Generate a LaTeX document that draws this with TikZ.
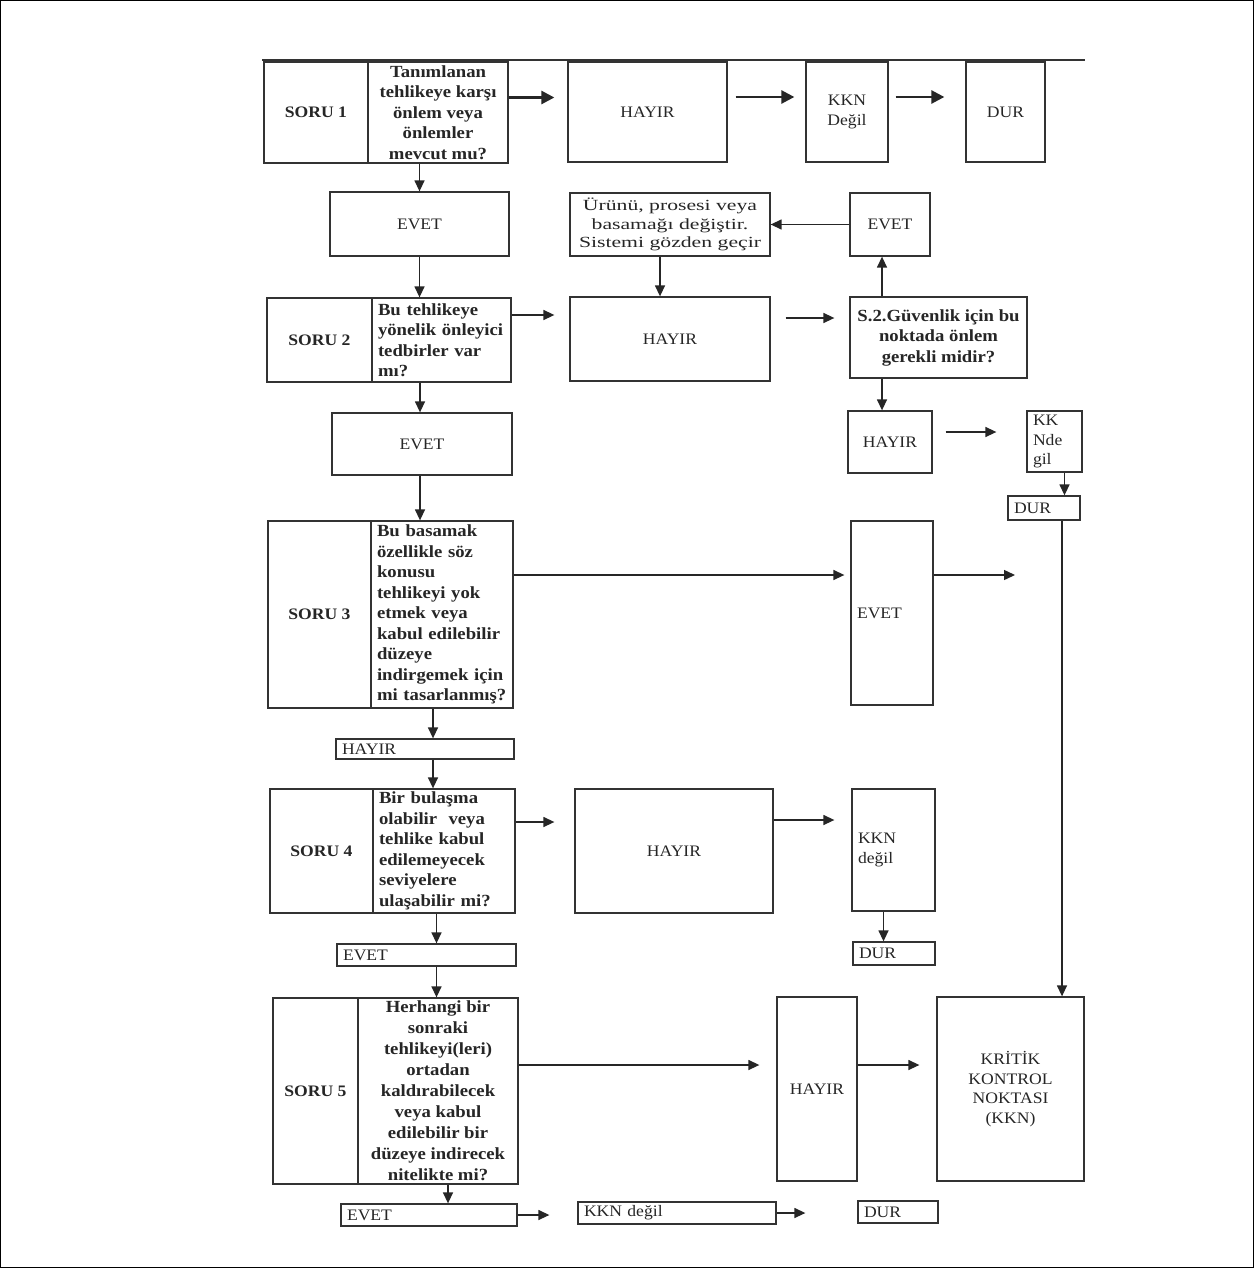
\documentclass[tikz,border=0pt]{standalone}
\usepackage{fontspec}
\setmainfont[FakeStretch=1.1]{Liberation Serif}
\newfontfamily\widefont[FakeStretch=1.4]{Liberation Serif}
\usetikzlibrary{arrows.meta}
\begin{document}
\begin{tikzpicture}[x=1pt,y=-1pt,
  bx/.style={draw=black!80, line width=1.3pt, text=black!85, inner sep=0pt, inner xsep=6pt,
    font=\fontsize{16}{19.5}\selectfont, align=center},
  qbx/.style={bx, font=\bfseries\fontsize{17}{20.5}\selectfont},
  lbl/.style={bx, font=\bfseries\fontsize{16}{19.5}\selectfont},
  arr/.style={draw=black!85, line width=1.4pt, -{Triangle[length=11pt,width=10pt]}},
  tarr/.style={draw=black!85, line width=2.6pt, -{Triangle[length=13pt,width=13pt]}},
]
\useasboundingbox (0,0) rectangle (1254,1268);
\fill[white] (0,0) rectangle (1254,1268);
\draw[line width=1.2pt] (0.6,0.6) rectangle (1253.4,1267.4);

% top line
\coordinate (tl) at (262,60);
\coordinate (tr) at (1085,60);
\draw[line width=1.6pt, black!80] (tl) -- (tr);

% ---- row 1
\node[lbl, minimum width=104pt, minimum height=101pt] (s1a) at (316,112.5) {SORU 1};
\node[qbx, minimum width=140pt, minimum height=101pt] (s1q) at (438,112.5) {Tanımlanan\\tehlikeye karşı\\önlem veya\\önlemler\\mevcut mu?};
\node[bx, minimum width=159pt, minimum height=100pt] (h1) at (647.5,112) {HAYIR};
\node[bx, minimum width=82pt, minimum height=100pt] (k1) at (847,112) {KKN\\Değil};
\node[bx, minimum width=79pt, minimum height=100pt] (d1) at (1005.5,112) {DUR};
\draw[tarr, shorten >=13pt] ([yshift=15pt]s1q.east) -- ([yshift=15pt]s1q.east -| h1.west);
\draw[tarr, shorten <=8pt, shorten >=11pt] ([yshift=15pt]h1.east) -- ([yshift=15pt]h1.east -| k1.west);
\draw[tarr, shorten <=7pt, shorten >=21pt] ([yshift=15pt]k1.east) -- ([yshift=15pt]k1.east -| d1.west);

% ---- row 2
\node[bx, minimum width=179pt, minimum height=64pt] (e1) at (419.5,224) {EVET};
\node[bx, minimum width=200pt, minimum height=63pt, font=\widefont\fontsize{15.5}{18.5}\selectfont] (u) at (670,224.5) {Ürünü, prosesi veya\\basamağı değiştir.\\Sistemi gözden geçir};
\node[bx, minimum width=80pt, minimum height=63pt] (e2r) at (890,224.5) {EVET};
\draw[arr] (s1q.south -| e1.north) -- (e1.north);
\draw[arr] (e2r.west) -- (u.east);

% ---- row 3
\node[lbl, minimum width=105pt, minimum height=84pt] (s2a) at (319.5,340) {SORU 2};
\node[qbx, minimum width=139pt, minimum height=84pt, text width=127pt, align=left] (s2q) at (441.5,340) {Bu tehlikeye\\yönelik önleyici\\tedbirler var\\mı?};
\node[bx, minimum width=200pt, minimum height=84pt] (h2) at (670,339) {HAYIR};
\node[qbx, minimum width=177pt, minimum height=81pt] (sg) at (938.5,337.5) {S.2.Güvenlik için bu\\noktada önlem\\gerekli midir?};
\draw[arr] (e1.south) -- (e1.south |- s2q.north);
\draw[arr, shorten >=15pt] ([yshift=25pt]s2q.east) -- ([yshift=25pt]s2q.east -| h2.west);
\draw[arr, shorten <=15pt, shorten >=15pt] ([yshift=21pt]h2.east) -- ([yshift=21pt]h2.east -| sg.west);
\draw[arr] ([xshift=-10pt]u.south) -- ([xshift=-10pt]h2.north);
\draw[arr] ([xshift=-8pt]e2r.south |- sg.north) -- ([xshift=-8pt]e2r.south);

% ---- row 4
\node[bx, minimum width=180pt, minimum height=62pt] (e3) at (422,444) {EVET};
\node[bx, minimum width=84pt, minimum height=62pt] (h3) at (890,442) {HAYIR};
\node[bx, minimum width=55pt, minimum height=61pt, text width=43pt, align=left] (k3) at (1054.5,441.5) {KK\\Nde\\gil};
\node[bx, minimum width=72pt, minimum height=24pt, text width=60pt, align=left] (d3) at (1044,508) {DUR};
\draw[arr] ([xshift=-2pt]s2q.south -| e3.north) -- ([xshift=-2pt]e3.north);
\draw[arr] ([xshift=-8pt]h3.north |- sg.south) -- ([xshift=-8pt]h3.north);
\draw[arr, shorten <=13pt, shorten >=30pt] ([yshift=10pt]h3.east) -- ([yshift=10pt]h3.east -| k3.west);
\draw[arr] ([xshift=10pt]k3.south) -- ([xshift=10pt]k3.south |- d3.north);

% ---- soru 3
\node[lbl, minimum width=103pt, minimum height=187pt] (s3a) at (319.5,614.5) {SORU 3};
\node[qbx, minimum width=142pt, minimum height=187pt, text width=130pt, align=left] (s3q) at (442,614.5) {Bu basamak\\özellikle söz\\konusu\\tehlikeyi yok\\etmek veya\\kabul edilebilir\\düzeye\\indirgemek için\\mi tasarlanmış?};
\node[bx, minimum width=82pt, minimum height=184pt, text width=70pt, align=left] (e4) at (892,613) {EVET};
\coordinate (f3) at (1015,575);
\draw[arr] ([xshift=-2pt]e3.south) -- ([xshift=-2pt]e3.south |- s3q.north);
\draw[arr, shorten >=6pt] ([yshift=39.5pt]s3q.east) -- ([yshift=39.5pt]s3q.east -| e4.west);
\draw[arr] (e4.east |- f3) -- (f3);

% ---- soru 4
\node[bx, minimum width=178pt, minimum height=20pt, text width=166pt, align=left] (h4s) at (425,749) {HAYIR};
\node[lbl, minimum width=103pt, minimum height=124pt] (s4a) at (321.5,851) {SORU 4};
\node[qbx, minimum width=142pt, minimum height=124pt, text width=130pt, align=left] (s4q) at (444,851) {Bir bulaşma\\olabilir\ \ veya\\tehlike kabul\\edilemeyecek\\seviyelere\\ulaşabilir mi?};
\node[bx, minimum width=198pt, minimum height=124pt] (h5) at (674,851) {HAYIR};
\node[bx, minimum width=83pt, minimum height=122pt, text width=71pt, align=left] (k5) at (893.5,850) {KKN\\değil};
\node[bx, minimum width=82pt, minimum height=23pt, text width=70pt, align=left] (d5) at (894,953.5) {DUR};
\node[bx, minimum width=179pt, minimum height=22pt, text width=167pt, align=left] (e5) at (426.5,955) {EVET};
\draw[arr] ([xshift=8pt]h4s.north |- s3q.south) -- ([xshift=8pt]h4s.north);
\draw[arr] ([xshift=8pt]h4s.south) -- ([xshift=8pt]h4s.south |- s4q.north);
\draw[arr, shorten >=20pt] ([yshift=29pt]s4q.east) -- ([yshift=29pt]s4q.east -| h5.west);
\draw[arr, shorten >=17pt] ([yshift=31pt]h5.east) -- ([yshift=31pt]h5.east -| k5.west);
\draw[arr] ([xshift=-10pt]k5.south) -- ([xshift=-10pt]k5.south |- d5.north);
\draw[arr] ([xshift=10pt]e5.north |- s4q.south) -- ([xshift=10pt]e5.north);

% ---- soru 5
\node[lbl, minimum width=85pt, minimum height=186pt] (s5a) at (315.5,1091) {SORU 5};
\node[qbx, minimum width=160pt, minimum height=186pt, font=\bfseries\fontsize{17}{21}\selectfont] (s5q) at (438,1091) {Herhangi bir\\sonraki\\tehlikeyi(leri)\\ortadan\\kaldırabilecek\\veya kabul\\edilebilir bir\\düzeye indirecek\\nitelikte mi?};
\node[bx, minimum width=80pt, minimum height=184pt] (h6) at (817,1089) {HAYIR};
\node[bx, minimum width=147pt, minimum height=184pt] (kkn) at (1010.5,1089) {KRİTİK\\KONTROL\\NOKTASI\\(KKN)};
\draw[arr] ([xshift=10pt]e5.south) -- ([xshift=10pt]e5.south |- s5q.north);
\draw[arr, shorten >=17pt] ([yshift=26pt]s5q.east) -- ([yshift=26pt]s5q.east -| h6.west);
\draw[arr, shorten >=17pt] ([yshift=24pt]h6.east) -- ([yshift=24pt]h6.east -| kkn.west);
\draw[arr] ([xshift=18pt]d3.south) -- ([xshift=18pt]d3.south |- kkn.north);

% ---- bottom row
\node[bx, minimum width=176pt, minimum height=22pt, text width=164pt, align=left] (e6) at (429,1215) {EVET};
\node[bx, minimum width=198pt, minimum height=22pt, text width=186pt, align=left] (k6) at (677,1213) {KKN değil};
\node[bx, minimum width=80pt, minimum height=22pt, text width=68pt, align=left] (d6) at (898,1212) {DUR};
\draw[arr] ([xshift=10pt]s5q.south) -- ([xshift=10pt]s5q.south |- e6.north);
\draw[arr, shorten >=28pt] (e6.east) -- (e6.east -| k6.west);
\draw[arr, shorten >=52pt] (k6.east) -- (k6.east -| d6.west);
\end{tikzpicture}
\end{document}
